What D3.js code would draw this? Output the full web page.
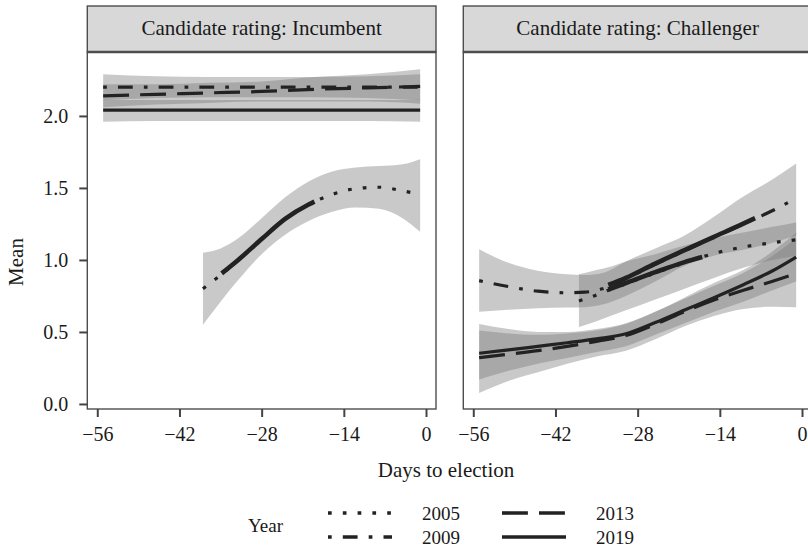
<!DOCTYPE html>
<html><head><meta charset="utf-8">
<script src="https://cdn.jsdelivr.net/npm/d3@7"></script>
<style>body{margin:0;background:#fff}svg{display:block}text{font-family:"Liberation Serif","Times New Roman",serif;fill:#1a1a1a}</style>
</head><body><svg id="c" width="808" height="551"></svg>
<script>
// ---------- data ----------
const years = ["2005", "2009", "2013", "2019"];
const panels = ["Candidate rating: Incumbent", "Candidate rating: Challenger"];
const xTicks = [-56, -42, -28, -14, 0];
const yTicks = [0, 0.5, 1, 1.5, 2];

// Incumbent
const inc2005Days = [-38, -35, -32, -28, -24, -20, -16, -12, -8, -4, -1];
const inc2005Mean = [0.80, 0.895, 1.00, 1.145, 1.285, 1.385, 1.455, 1.495, 1.505, 1.48, 1.455];
const inc2005Lo   = [0.55, 0.71, 0.86, 1.04, 1.175, 1.27, 1.335, 1.365, 1.355, 1.29, 1.195];
const inc2005Hi   = [1.05, 1.08, 1.15, 1.29, 1.435, 1.545, 1.615, 1.642, 1.652, 1.665, 1.70];
const incOverDays = [-34.8, -32, -28, -24, -20, -19];
const incOverMean = [0.907, 1.00, 1.145, 1.285, 1.385, 1.405];

const incFlatDays = [-55, -46, -37, -28, -19, -10, -1];
const inc2009Mean = [2.20, 2.20, 2.20, 2.20, 2.20, 2.20, 2.20];
const inc2009Lo   = [2.11, 2.125, 2.13, 2.13, 2.13, 2.125, 2.11];
const inc2009Hi   = [2.29, 2.275, 2.27, 2.27, 2.27, 2.275, 2.29];
const inc2013Mean = [2.14, 2.15, 2.16, 2.17, 2.185, 2.195, 2.205];
const inc2013Lo   = [2.06, 2.08, 2.09, 2.10, 2.10, 2.10, 2.085];
const inc2013Hi   = [2.22, 2.22, 2.23, 2.24, 2.27, 2.29, 2.325];
const inc2019Mean = [2.04, 2.04, 2.04, 2.04, 2.04, 2.04, 2.04];
const inc2019Lo   = [1.96, 1.965, 1.965, 1.965, 1.965, 1.965, 1.96];
const inc2019Hi   = [2.115, 2.11, 2.11, 2.11, 2.11, 2.11, 2.115];

// Challenger
const ch2009Days = [-55, -50, -45, -40, -37, -34, -30, -25, -20, -15, -10, -5, -1];
const ch2009Mean = [0.856, 0.815, 0.783, 0.772, 0.776, 0.80, 0.87, 0.97, 1.064, 1.157, 1.25, 1.343, 1.43];
const ch2009Lo   = [0.64, 0.655, 0.665, 0.67, 0.672, 0.69, 0.75, 0.85, 0.96, 1.03, 1.07, 1.12, 1.17];
const ch2009Hi   = [1.074, 0.98, 0.925, 0.90, 0.895, 0.91, 0.99, 1.08, 1.17, 1.30, 1.44, 1.56, 1.67];
const chOverADays = [-33, -30, -25, -20, -15, -10, -8];
const chOverAMean = [0.826, 0.875, 0.975, 1.068, 1.16, 1.252, 1.29];

const ch2005Days = [-38, -35, -33, -30, -25, -20, -15, -10, -5, -1];
const ch2005Mean = [0.715, 0.757, 0.79, 0.835, 0.91, 0.98, 1.045, 1.09, 1.12, 1.14];
const ch2005Lo   = [0.535, 0.575, 0.605, 0.65, 0.725, 0.80, 0.875, 0.945, 1.0, 1.03];
const ch2005Hi   = [0.90, 0.93, 0.95, 0.99, 1.04, 1.10, 1.15, 1.19, 1.23, 1.26];
const chOverBDays = [-33, -30, -25, -20, -17];
const chOverBMean = [0.795, 0.84, 0.915, 0.985, 1.02];

const chLowDays  = [-55, -50, -45, -40, -35, -30, -25, -20, -15, -10, -5, -1];
const ch2013Mean = [0.322, 0.345, 0.37, 0.40, 0.435, 0.475, 0.553, 0.642, 0.722, 0.79, 0.852, 0.905];
const ch2013Lo   = [0.076, 0.16, 0.22, 0.28, 0.33, 0.37, 0.45, 0.54, 0.61, 0.66, 0.675, 0.671];
const ch2013Hi   = [0.51, 0.49, 0.48, 0.49, 0.51, 0.555, 0.64, 0.73, 0.82, 0.91, 1.03, 1.15];
const ch2019Mean = [0.352, 0.375, 0.40, 0.425, 0.452, 0.487, 0.565, 0.652, 0.738, 0.828, 0.925, 1.02];
const ch2019Lo   = [0.17, 0.23, 0.28, 0.32, 0.36, 0.40, 0.48, 0.56, 0.64, 0.71, 0.79, 0.85];
const ch2019Hi   = [0.556, 0.52, 0.50, 0.50, 0.52, 0.56, 0.64, 0.74, 0.84, 0.93, 1.06, 1.19];

// series table built from the arrays
const zipS = (days, mean, lo, hi) => days.map((d, i) => ({d, m: mean[i], lo: lo ? lo[i] : null, hi: hi ? hi[i] : null}));
const series = [
  {panel: 0, year: "2019", pts: zipS(incFlatDays, inc2019Mean, inc2019Lo, inc2019Hi)},
  {panel: 0, year: "2013", pts: zipS(incFlatDays, inc2013Mean, inc2013Lo, inc2013Hi)},
  {panel: 0, year: "2009", pts: zipS(incFlatDays, inc2009Mean, inc2009Lo, inc2009Hi)},
  {panel: 0, year: "2005", pts: zipS(inc2005Days, inc2005Mean, inc2005Lo, inc2005Hi)},
  {panel: 0, year: "2019", pts: zipS(incOverDays, incOverMean), thick: true},
  {panel: 1, year: "2019", pts: zipS(chLowDays, ch2019Mean, ch2019Lo, ch2019Hi)},
  {panel: 1, year: "2013", pts: zipS(chLowDays, ch2013Mean, ch2013Lo, ch2013Hi)},
  {panel: 1, year: "2009", pts: zipS(ch2009Days, ch2009Mean, ch2009Lo, ch2009Hi)},
  {panel: 1, year: "2005", pts: zipS(ch2005Days, ch2005Mean, ch2005Lo, ch2005Hi)},
  {panel: 1, year: "2019", pts: zipS(chOverADays, chOverAMean), thick: true},
  {panel: 1, year: "2019", pts: zipS(chOverBDays, chOverBMean), thick: true}
];

// ---------- styles ----------
const U = 3.7;
const dash = {"2005": `${U},${3*U}`, "2009": `${U},${3*U},${4*U},${3*U}`, "2013": `${7*U},${3*U}`, "2019": null};
const lineCol = "#222";

const svg = d3.select("#c");
const panelX = [87.3, 463.3], panelW = 348.7;
const pTop = 52, pBot = 409;
const y = d3.scaleLinear().domain([-0.035, 2.444]).range([pBot, pTop]);
const xs = panelX.map(px => d3.scaleLinear().domain([-57.7, 1.7]).range([px, px + panelW]));

const defs = svg.append("defs");
panels.forEach((p, i) => {
  defs.append("clipPath").attr("id", "clip" + i).append("rect")
    .attr("x", panelX[i]).attr("y", pTop).attr("width", panelW).attr("height", pBot - pTop);
});

panels.forEach((p, i) => {
  const x = xs[i];
  const g = svg.append("g");
  // strip
  g.append("rect").attr("x", panelX[i]).attr("y", 6).attr("width", panelW).attr("height", pTop - 6)
    .attr("fill", "#d8d8d8").attr("stroke", "#4d4d4d").attr("stroke-width", 1.4);
  g.append("text").attr("x", panelX[i] + panelW / 2).attr("y", 35)
    .attr("text-anchor", "middle").style("font-size", "21px").text(p);
  // panel
  g.append("rect").attr("x", panelX[i]).attr("y", pTop).attr("width", panelW).attr("height", pBot - pTop)
    .attr("fill", "#fff");
  const pg = g.append("g").attr("clip-path", `url(#clip${i})`);
  const ps = series.filter(s => s.panel === i);
  const area = d3.area().x(d => x(d.d)).y0(d => y(d.lo)).y1(d => y(d.hi)).curve(d3.curveMonotoneX);
  const line = d3.line().x(d => x(d.d)).y(d => y(d.m)).curve(d3.curveMonotoneX);
  ps.filter(s => s.pts[0].lo !== null).forEach(s => {
    pg.append("path").attr("d", area(s.pts)).attr("fill", "#777").attr("fill-opacity", 0.4);
  });
  ps.forEach(s => {
    pg.append("path").attr("d", line(s.pts)).attr("fill", "none").attr("stroke", lineCol)
      .attr("stroke-width", s.thick ? 4.6 : 3.2)
      .attr("stroke-dasharray", s.thick ? null : dash[s.year]);
  });
  g.append("rect").attr("x", panelX[i]).attr("y", pTop).attr("width", panelW).attr("height", pBot - pTop)
    .attr("fill", "none").attr("stroke", "#4d4d4d").attr("stroke-width", 1.4);
  g.append("line").attr("x1", panelX[i]).attr("x2", panelX[i] + panelW).attr("y1", pTop).attr("y2", pTop)
    .attr("stroke", "#4d4d4d").attr("stroke-width", 2.6);
  // x axis
  const xa = svg.append("g").attr("transform", `translate(0,${pBot})`)
    .call(d3.axisBottom(x).tickValues(xTicks).tickSize(8).tickPadding(10).tickFormat(d => d < 0 ? "\u2212" + Math.abs(d) : d));
  xa.select(".domain").remove();
  xa.selectAll("line").attr("stroke", "#444").attr("stroke-width", 2);
  xa.selectAll("text").style("font-size", "20px").attr("fill", "#1a1a1a");
});

// y axis
const ya = svg.append("g").attr("transform", `translate(${panelX[0]},0)`)
  .call(d3.axisLeft(y).tickValues(yTicks).tickSize(8).tickPadding(11).tickFormat(d3.format(".1f")));
ya.select(".domain").remove();
ya.selectAll("line").attr("stroke", "#444").attr("stroke-width", 2);
ya.selectAll("text").style("font-size", "20px").attr("fill", "#1a1a1a");

// titles
svg.append("text").attr("x", 446).attr("y", 477).attr("text-anchor", "middle").style("font-size", "21px").text("Days to election");
svg.append("text").attr("transform", "translate(23,262) rotate(-90)").attr("text-anchor", "middle").style("font-size", "21px").text("Mean");

// legend
const lg = svg.append("g");
lg.append("text").attr("x", 248).attr("y", 532).style("font-size", "19px").text("Year");
const legPos = [[328, 513], [328, 537], [502, 513], [502, 537]];
years.forEach((yr, i) => {
  const [lx, ly] = legPos[i];
  lg.append("line").attr("x1", lx).attr("x2", lx + 64).attr("y1", ly).attr("y2", ly)
    .attr("stroke", lineCol).attr("stroke-width", 3.6).attr("stroke-dasharray", dash[yr]);
  lg.append("text").attr("x", lx + 94).attr("y", ly + 6.5).style("font-size", "19px").text(yr);
});
</script></body></html>
